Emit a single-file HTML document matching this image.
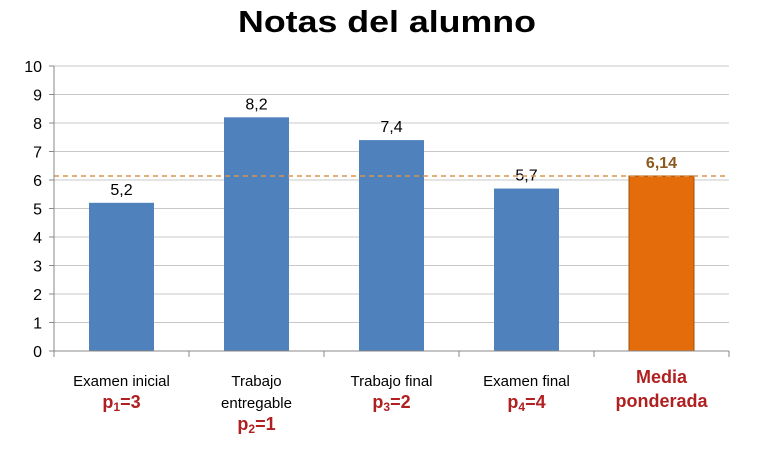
<!DOCTYPE html>
<html><head><meta charset="utf-8"><style>
body{margin:0;background:#fff;width:774px;height:459px;overflow:hidden}
svg{font-family:"Liberation Sans",sans-serif}
</style></head><body>
<svg width="774" height="459">
<text x="387" y="32" text-anchor="middle" font-size="31" font-weight="bold" fill="#000" textLength="298" lengthAdjust="spacingAndGlyphs">Notas del alumno</text>
<g id="grid"></g><g id="bars"></g><g id="axes"></g>
</svg>
<script>
const categories=["Examen inicial","Trabajo entregable","Trabajo final","Examen final","Media ponderada"];
const values=[5.2,8.2,7.4,5.7,6.14];
const valueLabels=["5,2","8,2","7,4","5,7","6,14"];
const yTicks=[0,1,2,3,4,5,6,7,8,9,10];
const mean=6.14;
const X0=54,X1=729,Y0=351,Y1=66;
const step=(X1-X0)/categories.length;
const y=v=>Y0-(v/10)*(Y0-Y1);
const xc=i=>X0+step*(i+0.5);
const NS="http://www.w3.org/2000/svg";
function mk(t,a,p,txt){const e=document.createElementNS(NS,t);for(const k in a)e.setAttribute(k,a[k]);if(txt!==undefined)e.textContent=txt;p.appendChild(e);return e;}
const grid=document.getElementById('grid'),bars=document.getElementById('bars'),axes=document.getElementById('axes');
yTicks.forEach(t=>{
 if(t>0){const g=mk('line',{x1:X0,x2:X1,y1:y(t),y2:y(t),stroke:'#c8c8c8','stroke-width':1},grid);
 
 }
 const tk=mk('line',{x1:X0-5,x2:X0,y1:y(t),y2:y(t),stroke:'#888'},axes);
 
 
 const l=mk('text',{x:X0-12,y:y(t)+6,'text-anchor':'end','font-size':16,fill:'#000'},axes,String(t));
 
 
});
values.forEach((v,i)=>{
 const last=i===values.length-1;
 const r=mk('rect',{x:xc(i)-32.5,y:y(v),width:65,height:Y0-y(v),fill:last?'#e46c0a':'#4f81bd',stroke:last?'#a0520a':'none','stroke-width':1},bars);
 
 
 const t=mk('text',{x:xc(i),y:y(v)-8,'text-anchor':'middle','font-size':16,fill:last?'#8a5a1e':'#000','font-weight':last?'bold':'normal'},bars,valueLabels[i]);
 
 
});
const ml=mk('line',{x1:X0,x2:X1,y1:y(mean),y2:y(mean),stroke:'#d9964f','stroke-width':1.5,'stroke-dasharray':'5,4'},bars);


const ya=mk('line',{x1:X0,x2:X0,y1:Y1,y2:Y0+5,stroke:'#888'},axes);


const xa=mk('line',{x1:X0,x2:X1,y1:Y0,y2:Y0,stroke:'#888'},axes);


for(let i=0;i<=categories.length;i++){const t=mk('line',{x1:X0+step*i,x2:X0+step*i,y1:Y0,y2:Y0+6,stroke:'#888'},axes);
 
 }
const labelLines=[[["Examen inicial"],["p","1","=3"]],[["Trabajo"],["entregable"],["p","2","=1"]],[["Trabajo final"],["p","3","=2"]],[["Examen final"],["p","4","=4"]],[["Media","B"],["ponderada","B"]]];
labelLines.forEach((lines,i)=>{
 const g=mk('g',{},axes);
 
 
 lines.forEach((ln,j)=>{
  const yy=386+j*22;
  if(ln.length===3){
   const t=mk('text',{x:xc(i),y:yy,'text-anchor':'middle','font-size':18,'font-weight':'bold',fill:'#b02020'},g);
   mk('tspan',{},t,ln[0]);mk('tspan',{'font-size':12,dy:3},t,ln[1]);mk('tspan',{dy:-3},t,ln[2]);
  }else if(ln[1]==="B"){
   mk('text',{x:xc(i),y:yy-3+j*2,'text-anchor':'middle','font-size':18,'font-weight':'bold',fill:'#b02020'},g,ln[0]);
  }else{
   mk('text',{x:xc(i),y:yy,'text-anchor':'middle','font-size':15,fill:'#000'},g,ln[0]);
  }
 });
});
</script>
</body></html>
